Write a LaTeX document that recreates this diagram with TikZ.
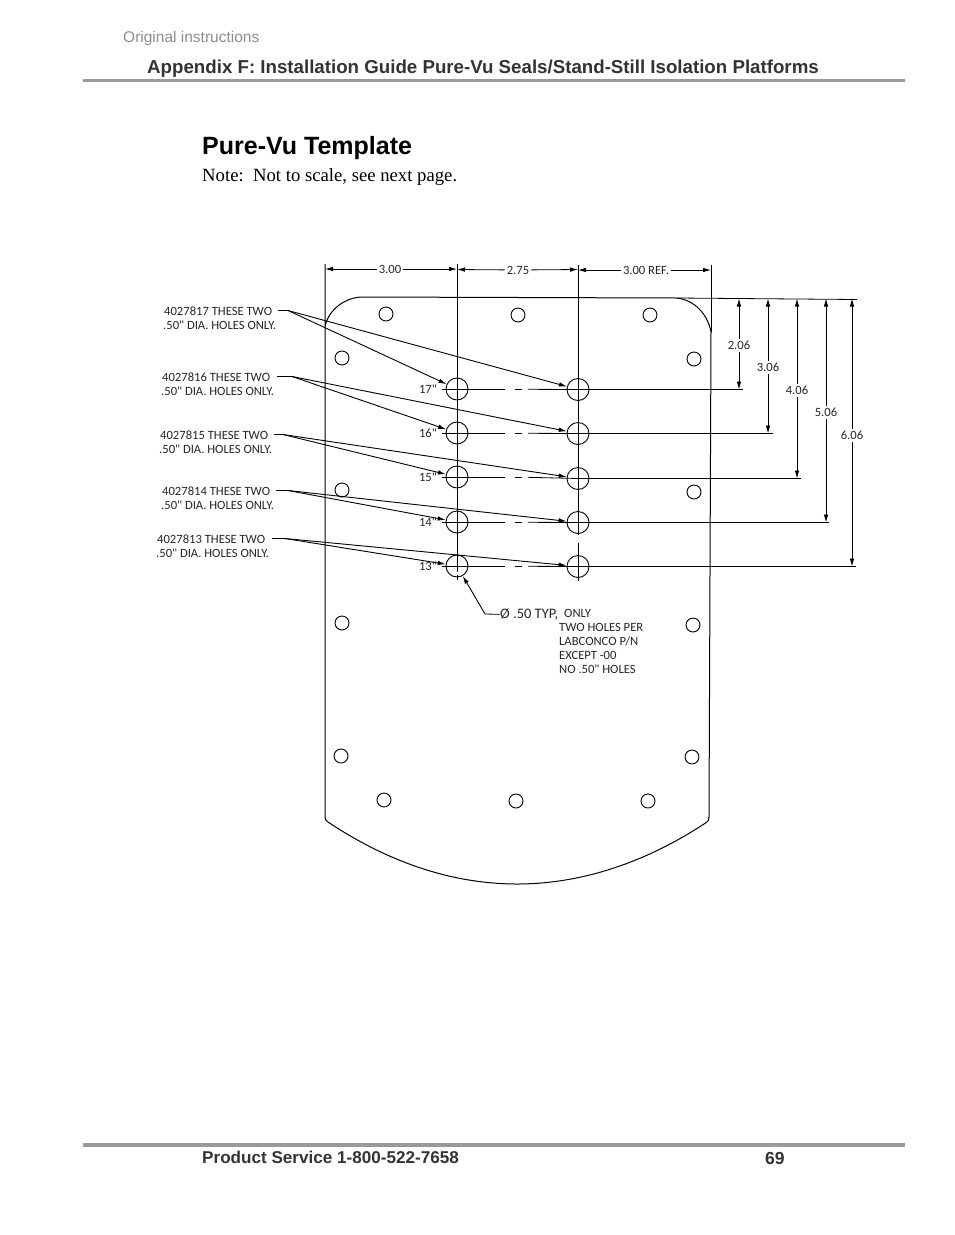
\documentclass[tikz,border=0pt]{standalone}
\usepackage{fontspec}
\setmainfont{Liberation Sans}
\newfontfamily\notefont{Liberation Serif}
\newfontfamily\drawfont{Carlito}
\usetikzlibrary{arrows.meta}
\definecolor{rulegray}{gray}{0.6}
\tikzset{
	pagetext/.style={anchor=west, inner sep=0pt, font=\fontsize{18.7}{20}\selectfont\bfseries, text=black!80},
	drawtext/.style={anchor=west, inner sep=0pt, text=black!85, font=\drawfont\fontsize{12.6}{14}\selectfont},
	dimtext/.style={inner sep=2pt, text=black!85, font=\drawfont\fontsize{12.6}{14}\selectfont},
	bighole/.style={draw, circle, inner sep=0pt, minimum size=22pt, line width=0.9pt},
	smallhole/.style={draw, circle, inner sep=0pt, minimum size=14pt, line width=0.9pt},
	dimarrow/.style={line width=0.8pt, -{Latex[length=8pt,width=4.5pt]}},
	leader/.style={line width=0.9pt, -{Latex[length=8pt,width=4.5pt]}},
	thinline/.style={line width=0.8pt},
}
\begin{document}
\begin{tikzpicture}[x=1pt, y=-1pt]
\useasboundingbox (0,0) rectangle (954,1235);

% page header and footer
\node[pagetext, font=\fontsize{15.5}{17}\selectfont, text=black!45] (origtext) at (123,38.5) {Original instructions};
\node[pagetext] (headtext) at (147,68.5) {Appendix F: Installation Guide Pure-Vu Seals/Stand-Still Isolation Platforms};
\fill[rulegray] (83,79) rectangle (905,82);
\node[pagetext, font=\fontsize{25}{28}\selectfont\bfseries, text=black] (titletext) at (202,148) {Pure-Vu Template};
\node[pagetext, font=\notefont\fontsize{18.7}{20}\selectfont, text=black] (notetext) at (202,177) {Note:\ \ Not to scale, see next page.};
\fill[rulegray] (83,1143) rectangle (905,1146.5);
\node[pagetext, font=\fontsize{17.1}{19}\selectfont\bfseries] (servicetext) at (202,1157) {Product Service 1-800-522-7658};
\node[pagetext, font=\fontsize{17.5}{19}\selectfont\bfseries] (pagenum) at (765,1158) {69};

% plate outline
\draw[line width=1pt] (325,264) -- (325,327) .. controls (328,310) and (345,297) .. (363,297)
	-- (677,298) .. controls (695,300) and (708,315) .. (711,332) -- (709,817)
	.. controls (709,820) and (708,821) .. (707,822)
	.. controls (650,860) and (585,884) .. (517,884)
	.. controls (449,884) and (385,860) .. (328,822)
	.. controls (326,821) and (325,819) .. (325,817) -- (325,327);
\draw[line width=1pt] (711,332) -- (711,265);
\draw[thinline] (677,298) -- (857,299.5);

% small holes
\foreach \x/\y [count=\i] in {386/314, 518/315, 650/315, 342/358, 694/359, 342/490, 694/492, 342/623, 693/625, 341/756, 692/757, 384/800, 516/801, 648/801} {
	\node[smallhole] (small\i) at (\x,\y) {};
}

% centre lines
\draw[line width=0.9pt] (457,264) -- (457,572);
\draw[line width=0.9pt] (457,575) -- (457,580);
\draw[line width=0.9pt] (578,265) -- (578,535);
\draw[line width=0.9pt] (578,543) -- (578,581);

% big holes with their dimension lines
\foreach \n/\yl/\yr/\xend/\xdim/\val/\ytext in {17/389/389.5/743/739/2.06/345, 16/433/433.5/773/768/3.06/367, 15/477/478.5/801/797/4.06/390, 14/522/522.5/829/826/5.06/412, 13/566/566.5/856/852/6.06/435} {
	\node[bighole] (holeL\n) at (457,\yl) {};
	\node[bighole] (holeR\n) at (578,\yr) {};
	\node[dimtext, anchor=center] (hlabel\n) at (428,\yl) {\n"};
	\draw[thinline] (442,\yl) -- (505,\yl);
	\draw[thinline] (515,\yl+.3) -- (522,\yl+.3);
	\draw[thinline] (528,\yl+.3) -- (578,\yr);
	\coordinate (dimend\n) at (\xend,\yr);
	\draw[line width=1pt] (578,\yr) -- (dimend\n);
	\node[dimtext, anchor=center] (dimval\n) at (\xdim,\ytext) {\val};
	\coordinate (dimtop\n) at (\xdim,298.5);
	\coordinate (dimbot\n) at (\xdim,\yr);
	\draw[dimarrow] (dimval\n) -- (dimtop\n);
	\draw[dimarrow] (dimval\n) -- (dimbot\n);
}

% top dimensions
\coordinate (extA) at (325,269);
\coordinate (extB) at (457,269);
\coordinate (extC) at (457,269.5);
\coordinate (extD) at (578,269.5);
\coordinate (extE) at (578,270);
\coordinate (extF) at (711,270);
\node[dimtext] (topA) at (390,269) {3.00};
\node[dimtext] (topB) at (518,270) {2.75};
\node[dimtext] (topC) at (646,270) {3.00 REF.};
\draw[dimarrow] (topA) -- (extA);
\draw[dimarrow] (topA) -- (extB);
\draw[dimarrow] (topB) -- (extC);
\draw[dimarrow] (topB) -- (extD);
\draw[dimarrow] (topC) -- (extE);
\draw[dimarrow] (topC) -- (extF);

% part number labels and leaders
\foreach \n/\xa/\xb/\ya/\yb/\xs/\xe in {17/164/163/311/325/278/288, 16/162/161/377/391/277/292, 15/160/159/435/449/274/283, 14/162/161/491/505/276/288, 13/157/156/539/553/272/285} {
	\node[drawtext] (part\n) at (\xa,\ya) {40278\n\ THESE TWO};
	\node[drawtext] (dia\n) at (\xb,\yb) {.50" DIA. HOLES ONLY.};
	\coordinate (start\n) at (\xs,\ya-.5);
	\coordinate (fork\n) at (\xe,\ya-.5);
	\draw[thinline] (start\n) -- (fork\n);
	\draw[leader] (fork\n) -- (holeL\n);
	\draw[leader] (fork\n) -- (holeR\n);
}

% callout for the hole size
\node[drawtext, font=\drawfont\fontsize{14.5}{16}\selectfont] (typtext) at (500,615) {Ø .50 TYP,};
\node[drawtext] (onlytext) at (564,613) {ONLY};
\node[drawtext] (twotext) at (559,627) {TWO HOLES PER};
\node[drawtext] (labtext) at (559,641) {LABCONCO P/N};
\node[drawtext] (excepttext) at (559,655) {EXCEPT -00};
\node[drawtext] (notext) at (559,669) {NO .50" HOLES};
\coordinate (typbend) at (485,614);
\draw[thinline] (typtext) -- (typbend);
\draw[leader] (typbend) -- (holeL13);
\end{tikzpicture}
\end{document}
